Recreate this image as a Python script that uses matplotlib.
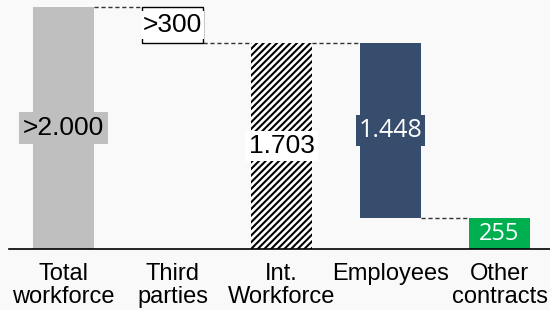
import matplotlib
matplotlib.use("Agg")
import matplotlib.pyplot as plt

categories = ["Total\nworkforce", "Third\nparties", "Int.\nWorkforce", "Employees", "Other\ncontracts"]
total = 2000
third_parties = 297
int_workforce = 1703
employees = 1448
other_contracts = 255
labels = [">2.000", ">300", "1.703", "1.448", "255"]

plt.rcParams['font.family'] = ['Liberation Sans', 'DejaVu Sans']
plt.rcParams['hatch.linewidth'] = 1.5

BG = '#f9f9f9'
GRAY = '#bfbfbf'
NAVY = '#374d6d'
GREEN = '#00b050'

fig = plt.figure(figsize=(5.5, 3.1), dpi=100, facecolor=BG)
ax = fig.add_axes([9 / 550, 61 / 310, 1 - 9 / 550, 249 / 310])
ax.set_facecolor(BG)

w = 0.56
x = list(range(len(categories)))

# bars of the waterfall
ax.bar(x[0], total, width=w, color=GRAY, zorder=2)
ax.bar(x[1], third_parties, bottom=int_workforce, width=w, color='white',
       edgecolor='black', linewidth=1, zorder=2)
ax.bar(x[2], int_workforce, width=w, color='white', edgecolor='black',
       linewidth=0, hatch='/////', zorder=2)
ax.bar(x[3], employees, bottom=other_contracts, width=w, color=NAVY, zorder=2)
ax.bar(x[4], other_contracts, width=w, color=GREEN, zorder=2)

# dashed connectors
conn = [(0, total), (1, int_workforce), (2, int_workforce), (3, other_contracts)]
for i, y in conn:
    ax.plot([i + w / 2, i + 1 - w / 2], [y, y], ls=(0, (3, 2)), color='#333333',
            lw=1, zorder=1)

# value labels
mids = [total / 2, int_workforce + third_parties / 2, int_workforce / 2,
        other_contracts + employees / 2, other_contracts / 2]
styles = [
    dict(color='black', box=GRAY, family=['Liberation Sans'], size=19, pad=0.15),
    dict(color='black', box='white', family=['Liberation Sans'], size=19, pad=0.08),
    dict(color='black', box='white', family=['Liberation Sans'], size=19, pad=0.12),
    dict(color='white', box=NAVY, family=['Open Sans'], size=18, pad=0.12),
    dict(color='white', box=GREEN, family=['Open Sans'], size=17, pad=0.05),
]
for i, (lab, m, st) in enumerate(zip(labels, mids, styles)):
    ax.text(i, m, lab, ha='center', va='center', fontsize=st['size'], color=st['color'],
            family=st['family'], zorder=4,
            bbox=dict(boxstyle='square,pad=%s' % st['pad'], facecolor=st['box'],
                      edgecolor='none'))

ax.set_xlim(-0.5, 4.463)
ax.set_ylim(0, 249 / 0.121)
for s in ['left', 'right', 'top']:
    ax.spines[s].set_visible(False)
ax.spines['bottom'].set_linewidth(1.2)
ax.spines['bottom'].set_zorder(5)
ax.set_yticks([])
ax.set_xticks(x)
ax.set_xticklabels(categories, fontsize=17, linespacing=1.05, va='top')
ax.tick_params(axis='x', length=0, pad=10)

fig.savefig('out.png', dpi=100, facecolor=BG)
